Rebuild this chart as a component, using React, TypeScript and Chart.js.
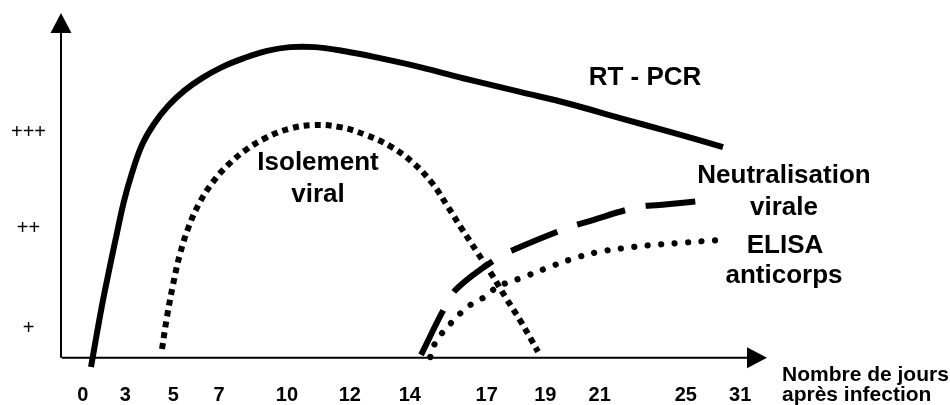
import { useEffect, useRef } from "react";
import { Chart, registerables } from "chart.js";

Chart.register(...registerables);

const FONT = "'Liberation Sans', Arial, Helvetica, sans-serif";

// x axis: schematic position (0 = origin, 100 = arrow tip); ticks show days after infection
const dayTickPositions = [3.1, 9.1, 15.9, 22.4, 32.0, 40.9, 49.4, 60.3, 68.6, 76.3, 88.5, 96.2];
const dayTickLabels = ["0", "3", "5", "7", "10", "12", "14", "17", "19", "21", "25", "31"];

// y axis: level of positivity
const levelTickValues = [8.4, 37.4, 65.3];
const levelTickLabels = ["+", "++", "+++"];

// RT - PCR (solid)
const rtPcrX = [4.25, 5.1, 5.95, 6.94, 7.93, 8.92, 10.06, 11.47, 13.17, 15.16, 17.42, 19.97, 22.8, 25.92, 29.18, 32.44, 35.98, 40.23, 45.18, 50.85, 57.93, 65.01, 72.1, 79.18, 86.26, 93.77];
const rtPcrY = [-2.7, 7.2, 16.7, 26.6, 36.2, 45.4, 53.6, 61.7, 67.8, 73.0, 77.4, 81.1, 84.3, 86.9, 89.0, 90.1, 90.1, 88.9, 86.9, 84.3, 80.6, 77.1, 73.6, 69.5, 65.5, 61.1];

// Isolement viral (square dots)
const isolementX = [14.31, 15.01, 15.86, 16.86, 18.13, 19.69, 21.53, 23.65, 26.2, 29.04, 32.29, 35.69, 39.52, 43.2, 46.6, 49.72, 52.55, 54.82, 56.8, 58.92, 61.05, 63.03, 65.01, 66.86, 67.56];
const isolementY = [2.5, 11.8, 21.1, 30.1, 38.2, 45.2, 51.0, 55.9, 60.3, 63.8, 66.4, 67.5, 66.9, 64.6, 61.4, 56.8, 50.7, 43.7, 37.3, 30.7, 24.0, 17.3, 10.9, 4.3, 1.7];

// Neutralisation virale (long dashes)
const neutralX = [51.0, 54.4, 56.2, 61.9, 64.7, 71.7, 74.5, 81.7, 84.8, 92.2];
const neutralY = [0.8, 14.7, 20.3, 29.0, 31.8, 37.6, 39.4, 43.7, 44.3, 45.8];

// ELISA anticorps (round dots)
const elisaX = [52.3, 53.0, 54.0, 55.4, 56.8, 58.4, 60.1, 61.8, 63.3, 65.3, 68.8, 72.5, 76.2, 80.2, 83.9, 87.7, 91.6, 93.6];
const elisaY = [0.2, 4.3, 7.2, 10.4, 13.3, 15.9, 17.7, 20.6, 21.8, 23.2, 26.0, 28.7, 30.7, 31.9, 32.7, 33.3, 33.9, 34.1];

const toPoints = (xs: number[], ys: number[]) => xs.map((x, i) => ({ x, y: ys[i] }));

const axesPlugin = {
  id: "schemaAxes",
  beforeDatasetsDraw(chart: any) {
    const { ctx, scales } = chart;
    const xs = scales.x;
    const ys = scales.y;
    const ox = xs.getPixelForValue(0);
    const oy = ys.getPixelForValue(0);
    const tipX = xs.right;
    const tipY = ys.top;
    ctx.save();
    ctx.strokeStyle = "#000";
    ctx.fillStyle = "#000";
    ctx.lineWidth = 2;
    ctx.beginPath();
    ctx.moveTo(ox, oy);
    ctx.lineTo(ox, tipY + 18);
    ctx.moveTo(ox + 1, oy);
    ctx.lineTo(tipX - 18, oy);
    ctx.stroke();
    // y arrow head
    ctx.beginPath();
    ctx.moveTo(ox, tipY);
    ctx.lineTo(ox - 10.5, tipY + 20);
    ctx.lineTo(ox + 10.5, tipY + 20);
    ctx.closePath();
    ctx.fill();
    // x arrow head
    ctx.beginPath();
    ctx.moveTo(tipX, oy);
    ctx.lineTo(tipX - 20, oy - 10.5);
    ctx.lineTo(tipX - 20, oy + 10.5);
    ctx.closePath();
    ctx.fill();
    ctx.restore();
  },
  afterDraw(chart: any) {
    const { ctx } = chart;
    ctx.save();
    ctx.fillStyle = "#000";
    ctx.textBaseline = "alphabetic";
    ctx.font = `bold 26px ${FONT}`;
    ctx.textAlign = "center";
    ctx.fillText("RT - PCR", 645, 85);
    ctx.fillText("Isolement", 318, 170);
    ctx.fillText("viral", 318, 202);
    ctx.fillText("Neutralisation", 784, 183);
    ctx.fillText("virale", 784, 215);
    ctx.fillText("ELISA", 785, 253);
    ctx.fillText("anticorps", 784, 283);
    ctx.textAlign = "left";
    ctx.font = `bold 21px ${FONT}`;
    ctx.fillText("Nombre de jours", 782, 381);
    ctx.fillText("après infection", 782, 401);
    ctx.fillStyle = "#bbb";
    ctx.fillText("Positivité", 3, 0);
    ctx.restore();
  },
};

export default function App() {
  const canvasRef = useRef<HTMLCanvasElement | null>(null);

  useEffect(() => {
    if (!canvasRef.current) return;
    const common = {
      pointRadius: 0,
      fill: false,
      clip: false as any,
      tension: 0.4,
      borderColor: "#000",
    };
    const chart = new Chart(canvasRef.current, {
      type: "line",
      data: {
        datasets: [
          { ...common, label: "RT - PCR", data: toPoints(rtPcrX, rtPcrY), borderWidth: 6 },
          {
            ...common,
            label: "Isolement viral",
            data: toPoints(isolementX, isolementY),
            borderWidth: 6,
            borderDash: [6, 5],
            borderCapStyle: "butt",
          },
          {
            ...common,
            label: "Neutralisation virale",
            data: toPoints(neutralX, neutralY),
            borderWidth: 6,
            borderDash: [50, 21],
            borderCapStyle: "butt",
          },
          {
            ...common,
            label: "ELISA anticorps",
            data: toPoints(elisaX, elisaY),
            borderWidth: 6.2,
            borderDash: [0.001, 13.5],
            borderCapStyle: "round",
          },
        ],
      },
      options: {
        animation: false,
        responsive: true,
        maintainAspectRatio: false,
        layout: { padding: { top: 13, right: 183, bottom: 0, left: 0 } },
        plugins: { legend: { display: false }, tooltip: { enabled: false } },
        events: [],
        scales: {
          x: {
            type: "linear",
            min: 0,
            max: 100,
            border: { display: false },
            grid: { display: false, drawTicks: false },
            afterBuildTicks: (scale: any) => {
              scale.ticks = dayTickPositions.map((v) => ({ value: v }));
            },
            afterFit: (scale: any) => {
              scale.height = 37;
              scale.paddingLeft = 0;
              scale.paddingRight = 0;
            },
            ticks: {
              autoSkip: false,
              maxRotation: 0,
              padding: 15,
              color: "#000",
              font: { family: FONT, size: 20, weight: "bold" },
              callback: (_v: any, i: number) => dayTickLabels[i],
            },
          },
          y: {
            type: "linear",
            min: -3,
            max: 100,
            border: { display: false },
            grid: { display: false, drawTicks: false },
            afterBuildTicks: (scale: any) => {
              scale.ticks = levelTickValues.map((v) => ({ value: v }));
            },
            afterFit: (scale: any) => {
              scale.width = 61;
              scale.paddingTop = 0;
              scale.paddingBottom = 0;
            },
            ticks: {
              autoSkip: false,
              padding: 15,
              crossAlign: "center",
              color: "#000",
              font: { family: FONT, size: 20 },
              callback: (_v: any, i: number) => levelTickLabels[i],
            },
          },
        },
      },
      plugins: [axesPlugin],
    } as any);
    return () => chart.destroy();
  }, []);

  return (
    <div style={{ position: "fixed", left: 0, top: 0, width: 950, height: 405, background: "#fff" }}>
      <canvas ref={canvasRef} />
    </div>
  );
}
